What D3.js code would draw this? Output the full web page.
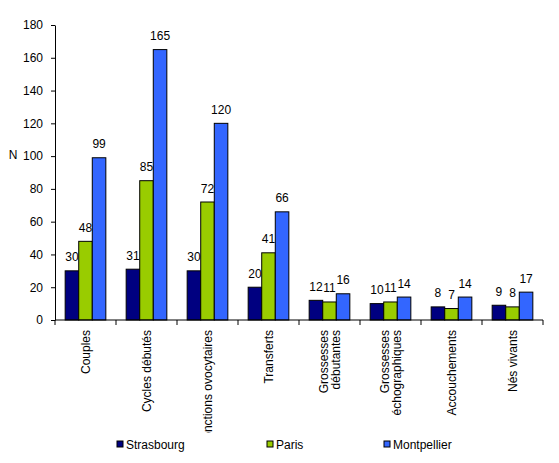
<!DOCTYPE html>
<html>
<head>
<meta charset="utf-8">
<script src="https://cdn.jsdelivr.net/npm/d3@7"></script>
<style>
  body { margin: 0; background: #fff; }
  text { font-family: "Liberation Sans", Arial, sans-serif; }
</style>
</head>
<body>
<div id="chart"></div>
<script>
// chart data
var categories = ["Couples", "Cycles débutés", "Ponctions ovocytaires", "Transferts",
    "Grossesses\ndébutantes", "Grossesses\néchographiques", "Accouchements", "Nés vivants"];
var seriesNames = ["Strasbourg", "Paris", "Montpellier"];
var strasbourg = [30, 31, 30, 20, 12, 10, 8, 9];
var paris = [48, 85, 72, 41, 11, 11, 7, 8];
var montpellier = [99, 165, 120, 66, 16, 14, 14, 17];
var yTicks = [0, 20, 40, 60, 80, 100, 120, 140, 160, 180];
var colors = ["#000080", "#99CC00", "#3366FF"];

var series = [strasbourg, paris, montpellier];

var width = 559, height = 463;
var margin = {top: 25, left: 55, right: 16, bottom: 143};

var svg = d3.select("#chart").append("svg")
    .attr("width", width)
    .attr("height", height);

var x = d3.scaleBand()
    .domain(categories)
    .range([margin.left, width - margin.right]);

// Excel-like gap width of 150%
var barW = x.bandwidth() / 4.5;

var y = d3.scaleLinear()
    .domain([0, 180])
    .range([height - margin.bottom, margin.top]);

// y axis
var yAxis = svg.append("g")
    .attr("transform", "translate(" + margin.left + ",0)")
    .call(d3.axisLeft(y).tickValues(yTicks).tickSize(4).tickSizeOuter(0).tickPadding(8));
yAxis.select(".domain").attr("stroke", "#000");
yAxis.selectAll("text").attr("font-size", 12).attr("fill", "#000");

svg.append("text")
    .attr("x", 13)
    .attr("y", 159)
    .attr("text-anchor", "middle")
    .attr("font-size", 12)
    .text("N");

// bars
series.forEach(function(vals, s) {
    svg.append("g").selectAll("rect")
        .data(vals)
        .enter().append("rect")
        .attr("x", function(d, i) { return x(categories[i]) + barW * (0.75 + s); })
        .attr("y", function(d) { return y(d); })
        .attr("width", barW)
        .attr("height", function(d) { return y(0) - y(d); })
        .attr("fill", colors[s])
        .attr("stroke", "#000")
        .attr("stroke-width", 1);

    svg.append("g").selectAll("text")
        .data(vals)
        .enter().append("text")
        .attr("x", function(d, i) { return x(categories[i]) + barW * (1.25 + s); })
        .attr("y", function(d) { return y(d) - 9.5; })
        .attr("text-anchor", "middle")
        .attr("font-size", 12)
        .text(function(d) { return d; });
});

// x axis
var xAxis = svg.append("g")
    .attr("transform", "translate(0," + y(0) + ")");
xAxis.append("line")
    .attr("x1", margin.left).attr("x2", width - margin.right)
    .attr("stroke", "#000");
xAxis.selectAll("line.tick")
    .data(d3.range(categories.length + 1))
    .enter().append("line")
    .attr("class", "tick")
    .attr("x1", function(i) { return margin.left + i * x.step(); })
    .attr("x2", function(i) { return margin.left + i * x.step(); })
    .attr("y1", 0).attr("y2", 5)
    .attr("stroke", "#000");

// rotated category labels, clipped like the original
svg.append("clipPath").attr("id", "labclip")
    .append("rect").attr("x", 0).attr("y", 0).attr("width", width).attr("height", 433);

var labels = svg.append("g").attr("clip-path", "url(#labclip)");
categories.forEach(function(c) {
    var lines = c.split("\n");
    var cx = x(c) + x.bandwidth() / 2;
    var t = labels.append("text")
        .attr("transform", "translate(" + cx + ",330) rotate(-90)")
        .attr("text-anchor", "end")
        .attr("font-size", 12);
    lines.forEach(function(l, k) {
        t.append("tspan")
            .attr("x", 0)
            .attr("y", 4 + (k - (lines.length - 1) / 2) * 12)
            .text(l);
    });
});

// legend
var legendX = [117, 267, 384];
var legend = svg.append("g");
seriesNames.forEach(function(n, i) {
    legend.append("rect")
        .attr("x", legendX[i]).attr("y", 441)
        .attr("width", 6).attr("height", 6)
        .attr("fill", colors[i])
        .attr("stroke", "#000");
    legend.append("text")
        .attr("x", legendX[i] + 9)
        .attr("y", 448.5)
        .attr("font-size", 12)
        .text(n);
});
</script>
</body>
</html>
